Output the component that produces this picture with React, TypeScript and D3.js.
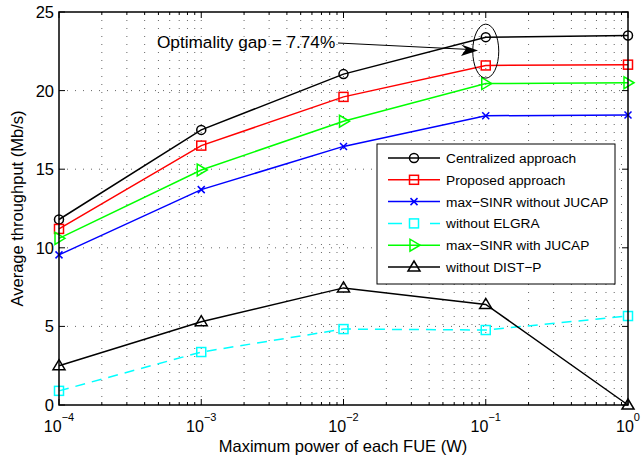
import React from "react";
import * as d3 from "d3";

// Maximum transmit power of each FUE (W)
const powers = [1e-4, 1e-3, 1e-2, 1e-1, 1];

// Average throughput (Mb/s) per scheme
const centralized = [11.8, 17.5, 21.05, 23.4, 23.5];
const proposed = [11.2, 16.5, 19.6, 21.6, 21.65];
const maxSinrNoJucap = [9.55, 13.7, 16.45, 18.4, 18.45];
const withoutElgra = [0.9, 3.37, 4.83, 4.77, 5.66];
const maxSinrJucap = [10.6, 14.95, 18.05, 20.45, 20.5];
const withoutDistP = [2.5, 5.3, 7.45, 6.4, 0];

const yTicks = [0, 5, 10, 15, 20, 25];
const xDecades = [-4, -3, -2, -1, 0];

type Marker = "circle" | "square" | "x" | "tri" | "tri-right";

const series: { name: string; values: number[]; color: string; marker: Marker; dash?: string }[] = [
  { name: "Centralized approach", values: centralized, color: "#000000", marker: "circle" },
  { name: "Proposed approach", values: proposed, color: "#ff0000", marker: "square" },
  { name: "max\u2212SINR without JUCAP", values: maxSinrNoJucap, color: "#0000ff", marker: "x" },
  { name: "without ELGRA", values: withoutElgra, color: "#00ffff", marker: "square", dash: "10 7" },
  { name: "max\u2212SINR with JUCAP", values: maxSinrJucap, color: "#00ff00", marker: "tri-right" },
  { name: "without DIST\u2212P", values: withoutDistP, color: "#000000", marker: "tri" },
];

const left = 59;
const right = 628;
const top = 12;
const bottom = 405;

const x = d3.scaleLog().domain([1e-4, 1]).range([left, right]);
const y = d3.scaleLinear().domain([0, 25]).range([bottom, top]);

function MarkerShape({ kind, cx, cy, color }: { kind: Marker; cx: number; cy: number; color: string }) {
  const sw = 1.5;
  switch (kind) {
    case "circle":
      return <circle cx={cx} cy={cy} r={4.5} fill="none" stroke={color} strokeWidth={sw} />;
    case "square":
      return <rect x={cx - 4.5} y={cy - 4.5} width={9} height={9} fill="none" stroke={color} strokeWidth={sw} />;
    case "x":
      return (
        <path
          d={`M${cx - 3.5},${cy - 3.5}L${cx + 3.5},${cy + 3.5}M${cx - 3.5},${cy + 3.5}L${cx + 3.5},${cy - 3.5}`}
          stroke={color}
          strokeWidth={sw}
        />
      );
    case "tri":
      return (
        <path
          d={`M${cx},${cy - 6}L${cx + 6},${cy + 4}L${cx - 6},${cy + 4}Z`}
          fill="none"
          stroke={color}
          strokeWidth={sw}
        />
      );
    case "tri-right":
      return (
        <path
          d={`M${cx + 6},${cy}L${cx - 4},${cy - 6}L${cx - 4},${cy + 6}Z`}
          fill="none"
          stroke={color}
          strokeWidth={sw}
        />
      );
  }
}

export default function App() {
  const line = d3
    .line<number>()
    .x((_, i) => x(powers[i]))
    .y((v) => y(v));

  // minor log ticks 2..9 within each decade
  const minor: number[] = [];
  for (let e = -4; e < 0; e++) {
    for (let m = 2; m <= 9; m++) minor.push(m * Math.pow(10, e));
  }
  const majors = xDecades.map((e) => Math.pow(10, e));
  const vGrid = [...majors.slice(1, -1), ...minor];

  const font = "'Liberation Sans', Arial, Helvetica, sans-serif";
  const grid = { stroke: "#000", strokeWidth: 1, strokeDasharray: "1 7", opacity: 0.6 };

  const legX = 377;
  const legY = 144;
  const legW = 238;
  const legRow = 21.8;
  const legH = 140;

  const gapTop = y(centralized[3]);

  return (
    <svg width={641} height={459} style={{ position: "absolute", left: 0, top: 0, background: "#fff" }} fontFamily={font}>
      <rect x={0} y={0} width={641} height={459} fill="#fff" />
      {/* grid */}
      {vGrid.map((v, i) => (
        <line key={`vg${i}`} x1={x(v)} x2={x(v)} y1={bottom} y2={top} {...grid} />
      ))}
      {yTicks.slice(1, -1).map((t) => (
        <line key={`hg${t}`} x1={left} x2={right} y1={y(t)} y2={y(t)} {...grid} />
      ))}

      {/* ticks */}
      {[...majors, ...minor].map((v, i) => {
        const len = majors.includes(v) ? 6 : 3;
        return (
          <g key={`xt${i}`} stroke="#000" strokeWidth={1}>
            <line x1={x(v)} x2={x(v)} y1={bottom} y2={bottom - len} />
            <line x1={x(v)} x2={x(v)} y1={top} y2={top + len} />
          </g>
        );
      })}
      {yTicks.map((t) => (
        <g key={`yt${t}`} stroke="#000" strokeWidth={1}>
          <line x1={left} x2={left + 6} y1={y(t)} y2={y(t)} />
          <line x1={right} x2={right - 6} y1={y(t)} y2={y(t)} />
        </g>
      ))}

      {/* series */}
      {series.map((s) => (
        <g key={s.name}>
          <path d={line(s.values) || ""} fill="none" stroke={s.color} strokeWidth={1.5} strokeDasharray={s.dash} />
          {s.values.map((v, i) => (
            <MarkerShape key={i} kind={s.marker} cx={x(powers[i])} cy={y(v)} color={s.color} />
          ))}
        </g>
      ))}

      {/* frame */}
      <rect x={left} y={top} width={right - left} height={bottom - top} fill="none" stroke="#000" strokeWidth={1.5} />

      {/* y tick labels */}
      {yTicks.map((t) => (
        <text key={`yl${t}`} x={left - 5} y={y(t) + 6} textAnchor="end" fontSize={16.5} fill="#000">
          {t}
        </text>
      ))}
      {/* x tick labels */}
      {xDecades.map((e) => (
        <text key={`xl${e}`} x={x(Math.pow(10, e))} y={431.5} textAnchor="middle" fontSize={16} fill="#000">
          10
          <tspan dy={-10.5} fontSize={11}>
            {e === 0 ? "0" : `\u2212${-e}`}
          </tspan>
        </text>
      ))}

      <text x={343} y={452} textAnchor="middle" fontSize={16.5} fill="#000">
        Maximum power of each FUE (W)
      </text>
      <text
        transform={`translate(23,${(top + bottom) / 2}) rotate(-90)`}
        textAnchor="middle"
        fontSize={16.5}
        fill="#000"
      >
        Average throughput (Mb/s)
      </text>

      {/* optimality gap annotation */}
      <ellipse cx={x(powers[3])} cy={gapTop + 14} rx={13} ry={27} fill="none" stroke="#000" strokeWidth={1} />
      <text x={157} y={47.5} fontSize={17.2} fill="#000">
        Optimality gap = 7.74%
      </text>
      <line x1={338} y1={43} x2={470} y2={49.5} stroke="#000" strokeWidth={1} />
      <path d="M478,50.5L461,44.5L466,49L461,56Z" fill="#000" />

      {/* legend */}
      <rect x={legX} y={legY} width={legW} height={legH} fill="#fff" stroke="#000" strokeWidth={1} />
      {series.map((s, i) => {
        const cy = legY + 14 + i * legRow;
        return (
          <g key={`lg${i}`}>
            <line
              x1={legX + 11}
              x2={legX + 63}
              y1={cy}
              y2={cy}
              stroke={s.color}
              strokeWidth={1.5}
              strokeDasharray={s.dash ? "14 28" : undefined}
            />
            <MarkerShape kind={s.marker} cx={legX + 37} cy={cy} color={s.color} />
            <text x={legX + 69} y={cy + 5} fontSize={13.7} fill="#000">
              {s.name}
            </text>
          </g>
        );
      })}
    </svg>
  );
}
